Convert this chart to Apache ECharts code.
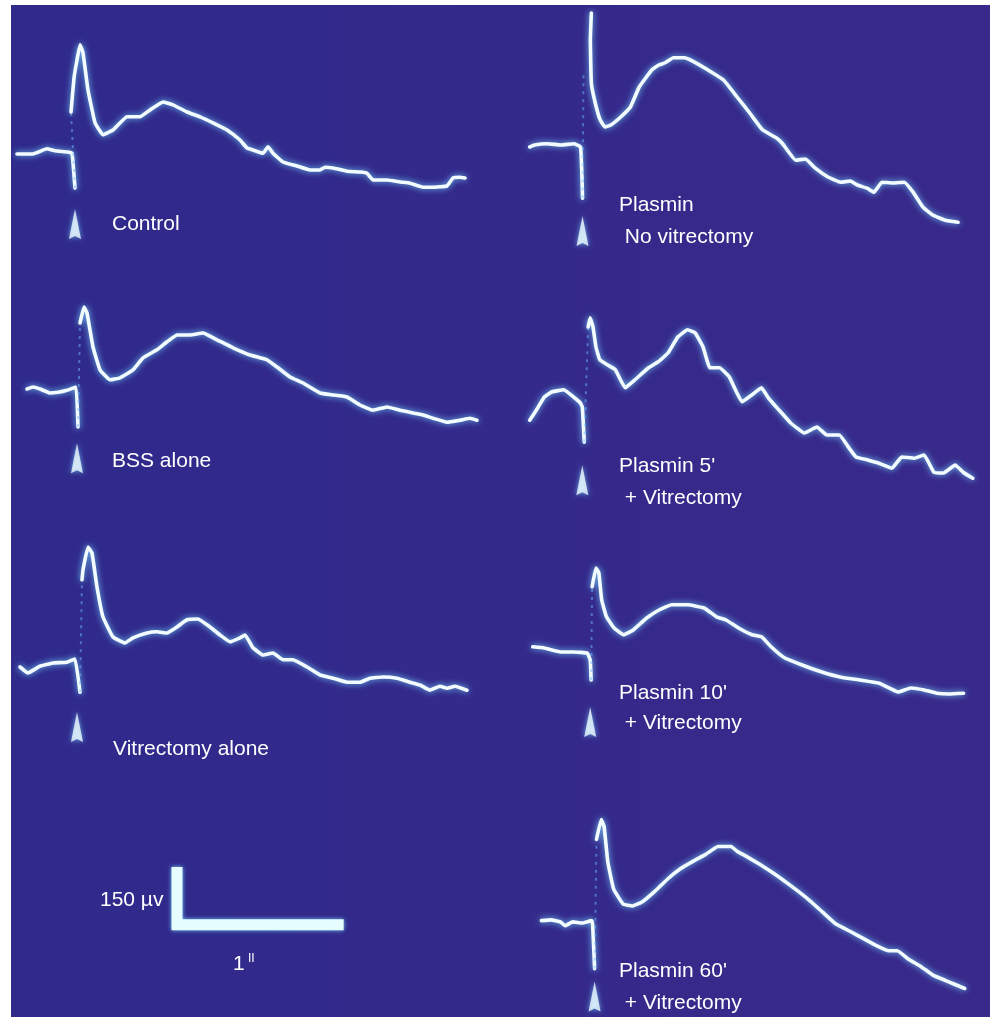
<!DOCTYPE html>
<html>
<head>
<meta charset="utf-8">
<script src="https://cdn.jsdelivr.net/npm/echarts@6/dist/echarts.min.js"></script>
<style>
html,body{margin:0;padding:0;background:#ffffff;}
#chart{width:990px;height:1021px;}
</style>
</head>
<body>
<div id="chart"></div>
<script>
// ---------- DATA (time in ms from stimulus, amplitude in µV from pre-stimulus baseline) ----------
// Control
const controlPre = [[-348,-5],[-252,-5],[-168,8],[-120,3],[-42,0],[-18,-3],[0,-90]];
const controlFlash = [[0,-90],[-24,100]];
const controlPost = [[-24,100],[-6,185],[12,230],[30,268],[48,248],[78,155],[120,73],[168,43],[228,55],[312,88],[390,88],[450,105],[528,125],[588,118],[672,100],[750,88],[828,73],[912,55],[990,30],[1032,10],[1068,5],[1128,-3],[1158,13],[1188,-3],[1248,-25],[1332,-35],[1410,-45],[1470,-45],[1500,-38],[1548,-40],[1632,-48],[1710,-50],[1752,-53],[1788,-70],[1872,-70],[1950,-75],[2010,-78],[2088,-88],[2148,-88],[2232,-85],[2268,-65],[2310,-63],[2340,-65]];

// Plasmin, no vitrectomy
const plasminNoVitPre = [[-324,-5],[-294,0],[-216,3],[-132,0],[-54,3],[-12,-5],[0,-133]];
const plasminNoVitFlash = [[0,-133],[6,180]];
const plasminNoVitPost = [[54,330],[48,263],[54,155],[78,105],[108,63],[138,45],[174,50],[234,70],[294,95],[348,145],[426,188],[468,200],[504,205],[558,218],[624,218],[684,208],[768,188],[864,163],[948,120],[1026,80],[1104,38],[1188,18],[1224,5],[1308,-38],[1368,-35],[1428,-58],[1506,-80],[1584,-93],[1644,-90],[1686,-100],[1746,-108],[1788,-118],[1836,-93],[1908,-95],[1974,-93],[2028,-118],[2088,-155],[2148,-175],[2226,-188],[2304,-193]];

// BSS alone
const bssPre = [[-306,0],[-270,5],[-228,0],[-168,-10],[-120,-8],[-66,-3],[-12,5],[0,-95]];
const bssFlash = [[0,-95],[12,165]];
const bssPost = [[12,165],[36,205],[54,190],[90,105],[132,48],[192,23],[252,28],[330,48],[390,78],[474,98],[534,118],[594,135],[672,135],[750,140],[834,123],[930,103],[1032,85],[1134,73],[1194,55],[1272,30],[1350,15],[1452,-10],[1530,-15],[1614,-20],[1692,-40],[1770,-53],[1854,-45],[1932,-53],[2010,-60],[2070,-65],[2130,-73],[2214,-83],[2292,-78],[2352,-73],[2394,-78]];

// Plasmin 5' + vitrectomy
const plasmin5Pre = [[-336,-38],[-288,-8],[-246,20],[-198,33],[-126,38],[-66,20],[-24,5],[-12,-5],[0,-93]];
const plasmin5Flash = [[0,-93],[24,195]];
const plasmin5Post = [[24,195],[36,218],[54,195],[72,145],[96,113],[144,100],[192,88],[252,43],[312,63],[396,93],[456,108],[516,130],[576,170],[636,188],[684,180],[732,145],[774,93],[834,93],[894,70],[972,8],[1032,25],[1092,43],[1134,18],[1212,-18],[1272,-45],[1356,-70],[1434,-55],[1494,-75],[1572,-75],[1632,-108],[1674,-130],[1752,-138],[1812,-145],[1896,-158],[1956,-130],[2034,-133],[2094,-125],[2154,-168],[2214,-170],[2286,-150],[2334,-168],[2394,-183]];

// Vitrectomy alone
const vitPre = [[-360,-15],[-312,-30],[-240,-13],[-162,-5],[-78,-3],[-30,5],[0,-78]];
const vitFlash = [[0,-78],[12,203]];
const vitPost = [[12,203],[18,228],[48,285],[72,270],[102,185],[138,110],[198,60],[270,45],[318,58],[402,70],[462,73],[522,70],[582,85],[642,103],[708,105],[780,85],[840,65],[900,48],[960,58],[990,65],[1038,33],[1098,15],[1158,20],[1218,3],[1278,3],[1362,-15],[1440,-35],[1518,-43],[1602,-53],[1680,-53],[1740,-43],[1818,-40],[1902,-43],[1980,-53],[2040,-60],[2100,-73],[2160,-63],[2202,-68],[2250,-63],[2322,-73]];

// Plasmin 10' + vitrectomy
const plasmin10Pre = [[-366,13],[-294,10],[-192,0],[-114,0],[-24,-3],[-6,-20],[0,-70]];
const plasmin10Flash = [[0,-70],[6,163]];
const plasmin10Post = [[6,163],[30,210],[48,198],[66,130],[96,88],[144,60],[204,43],[264,55],[348,85],[426,105],[504,118],[606,118],[708,110],[786,88],[846,80],[924,60],[1008,43],[1068,38],[1128,13],[1206,-13],[1326,-33],[1446,-50],[1566,-63],[1686,-70],[1806,-78],[1926,-100],[2004,-90],[2088,-95],[2166,-103],[2244,-105],[2334,-103]];

// Plasmin 60' + vitrectomy
const plasmin60Pre = [[-336,3],[-276,5],[-216,0],[-186,-10],[-138,0],[-78,-3],[-18,3],[-12,-10],[0,-118]];
const plasmin60Flash = [[0,-118],[12,208]];
const plasmin60Post = [[12,208],[42,258],[60,240],[84,150],[120,83],[180,45],[240,40],[300,50],[384,78],[462,108],[540,133],[624,153],[702,170],[780,190],[864,190],[900,178],[960,165],[1044,145],[1122,125],[1200,103],[1284,78],[1362,53],[1440,25],[1524,-5],[1620,-25],[1704,-43],[1782,-60],[1860,-73],[1914,-73],[1980,-93],[2064,-113],[2142,-135],[2220,-148],[2340,-168]];

// Calibration bar
const scaleBarUv = 150;   // µV
const scaleBarMs = 1000;  // 1 second

// Labels
const labelControl = ["Control"];
const labelPlasminNoVit = ["Plasmin", " No vitrectomy"];
const labelBss = ["BSS alone"];
const labelPlasmin5 = ["Plasmin 5'", " + Vitrectomy"];
const labelVit = ["Vitrectomy alone"];
const labelPlasmin10 = ["Plasmin 10'", " + Vitrectomy"];
const labelPlasmin60 = ["Plasmin 60'", " + Vitrectomy"];
const scaleLabelV = "150 µv";
const scaleLabelT = "1";
const scaleLabelTSup = "II";

// ---------- LAYOUT ----------
const MS_PER_PX = 6, UV_PER_PX = 2.5;
const T_MIN = -400, T_MAX = 2500, V_MIN = -250, V_MAX = 350;

const panels = [
  {pre: controlPre, flash: controlFlash, post: controlPost, ox: 75, oy: 152, arrowV: -180, arrowT: 0, labels: labelControl, lx: [112], ly: [223]},
  {pre: plasminNoVitPre, flash: plasminNoVitFlash, post: plasminNoVitPost, ox: 584, oy: 145, arrowV: -215, arrowT: 0, labels: labelPlasminNoVit, lx: [619, 619], ly: [204, 236]},
  {pre: bssPre, flash: bssFlash, post: bssPost, ox: 78, oy: 389, arrowV: -173, arrowT: -6, labels: labelBss, lx: [112], ly: [460]},
  {pre: plasmin5Pre, flash: plasmin5Flash, post: plasmin5Post, ox: 586, oy: 405, arrowV: -188, arrowT: -12, labels: labelPlasmin5, lx: [619, 619], ly: [465, 497]},
  {pre: vitPre, flash: vitFlash, post: vitPost, ox: 80, oy: 661, arrowV: -165, arrowT: -18, labels: labelVit, lx: [113], ly: [748]},
  {pre: plasmin10Pre, flash: plasmin10Flash, post: plasmin10Post, ox: 594, oy: 652, arrowV: -175, arrowT: -6, labels: labelPlasmin10, lx: [619, 619], ly: [692, 722]},
  {pre: plasmin60Pre, flash: plasmin60Flash, post: plasmin60Post, ox: 598, oy: 923, arrowV: -188, arrowT: 0, labels: labelPlasmin60, lx: [619, 619], ly: [970, 1002]}
];
const scalePanel = {ox: 177, oy: 930};

const TRACE_COLOR = '#f2fcff';
const GLOW = 'rgba(120,215,255,0.95)';
const FONT = '"Liberation Sans", Arial, Helvetica, sans-serif';

const grids = [], xAxes = [], yAxes = [], series = [], graphics = [];

function addGrid(ox, oy) {
  const idx = grids.length;
  grids.push({
    left: ox + T_MIN / MS_PER_PX,
    top: oy - V_MAX / UV_PER_PX,
    width: (T_MAX - T_MIN) / MS_PER_PX,
    height: (V_MAX - V_MIN) / UV_PER_PX,
    show: false
  });
  xAxes.push({type: 'value', gridIndex: idx, min: T_MIN, max: T_MAX, show: false});
  yAxes.push({type: 'value', gridIndex: idx, min: V_MIN, max: V_MAX, show: false});
  return idx;
}

// background
graphics.push({
  type: 'rect', z: -10, silent: true,
  shape: {x: 11, y: 5, width: 979, height: 1012},
  style: {fill: new echarts.graphic.LinearGradient(0, 0, 1, 0, [
    {offset: 0, color: '#2f2a8c'}, {offset: 1, color: '#38298a'}
  ])}
});

panels.forEach(function (p) {
  const gi = addGrid(p.ox, p.oy);
  const bright = {color: TRACE_COLOR, width: 3.6, shadowBlur: 6, shadowColor: GLOW, cap: 'round', join: 'round'};
  series.push({type: 'line', xAxisIndex: gi, yAxisIndex: gi, data: p.pre, showSymbol: false, smooth: 0.1, lineStyle: bright, silent: true, clip: false});
  series.push({type: 'line', xAxisIndex: gi, yAxisIndex: gi, data: p.flash, showSymbol: false, lineStyle: {color: 'rgba(110,185,255,0.5)', width: 2, type: [3, 5]}, silent: true, clip: false});
  series.push({type: 'line', xAxisIndex: gi, yAxisIndex: gi, data: p.post, showSymbol: false, smooth: 0.1, lineStyle: bright, silent: true, clip: false});
  series.push({type: 'scatter', xAxisIndex: gi, yAxisIndex: gi, data: [[p.arrowT, p.arrowV]],
    symbol: 'path://M6,0 L12,30 L6,27 L0,30 Z', symbolSize: [12, 30],
    itemStyle: {color: '#f0fbff', shadowBlur: 5, shadowColor: GLOW}, silent: true, clip: false});
  p.labels.forEach(function (txt, i) {
    graphics.push({type: 'text', left: p.lx[i], top: p.ly[i] - 9, silent: true,
      style: {text: txt, fill: '#ffffff', font: '21px ' + FONT}});
  });
});

// calibration bar
const sg = addGrid(scalePanel.ox, scalePanel.oy);
series.push({type: 'line', xAxisIndex: sg, yAxisIndex: sg,
  data: [[0, scaleBarUv], [0, 0], [scaleBarMs, 0]], showSymbol: false,
  lineStyle: {color: '#e6fdff', width: 11, cap: 'butt', join: 'miter', shadowBlur: 4, shadowColor: GLOW}, silent: true, clip: false});
graphics.push({type: 'text', left: 100, top: 890, silent: true, style: {text: scaleLabelV, fill: '#ffffff', font: '21px ' + FONT}});
graphics.push({type: 'text', left: 233, top: 954, silent: true, style: {text: scaleLabelT, fill: '#ffffff', font: '21px ' + FONT}});
graphics.push({type: 'text', left: 248, top: 953, silent: true, style: {text: scaleLabelTSup, fill: '#ffffff', font: '12px ' + FONT}});

const chart = echarts.init(document.getElementById('chart'), null, {renderer: 'canvas'});
chart.setOption({
  animation: false,
  backgroundColor: '#ffffff',
  grid: grids, xAxis: xAxes, yAxis: yAxes, series: series, graphic: graphics
});
</script>
</body>
</html>
